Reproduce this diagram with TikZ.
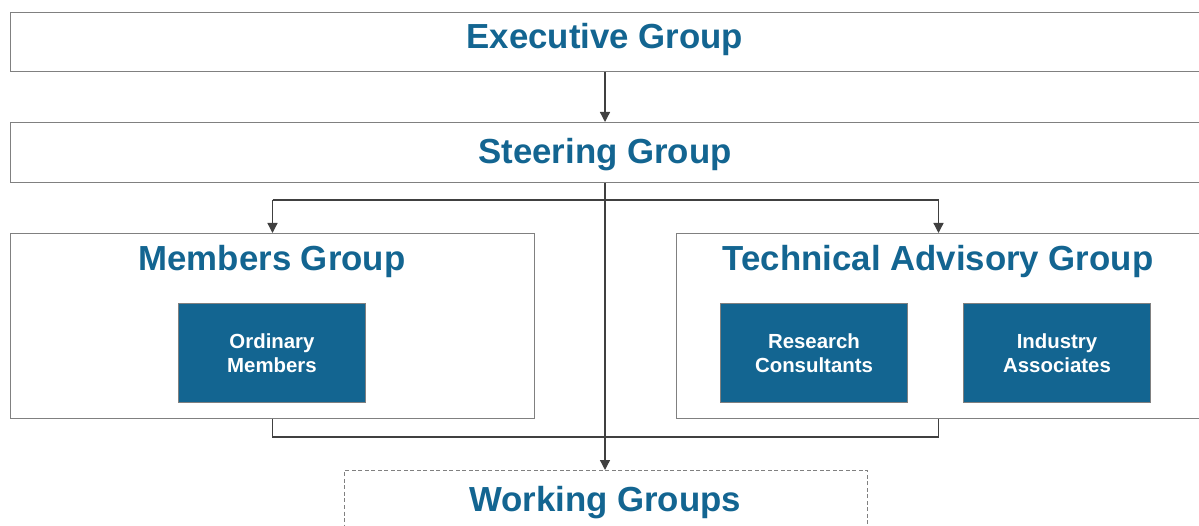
\documentclass[tikz,border=0pt]{standalone}
\usepackage{fontspec}
\setmainfont{Liberation Sans}
\usetikzlibrary{arrows.meta}
\definecolor{oxblue}{HTML}{136591}
\definecolor{edgegray}{HTML}{808080}
\definecolor{linegray}{HTML}{404040}
\tikzset{
  groupbox/.style={draw=edgegray, line width=1pt, fill=white, rectangle, inner sep=0pt, anchor=north west},
  dashbox/.style={groupbox, dashed, dash pattern=on 4pt off 2.5pt},
  title/.style={text=oxblue, font=\fontsize{34.8}{40}\selectfont\bfseries, inner sep=0pt},
  unitbox/.style={draw=edgegray, line width=1pt, fill=oxblue, rectangle, anchor=north west,
    minimum width=187pt, minimum height=99pt, text=white, align=center,
    font=\fontsize{20.4}{23.5}\selectfont\bfseries},
  conn/.style={draw=linegray, line width=1.3pt, -{Triangle[length=10pt,width=10pt]}},
  plainconn/.style={draw=linegray, line width=1.3pt}
}
\begin{document}
\begin{tikzpicture}[x=1pt,y=-1pt]
\useasboundingbox (0,0) rectangle (1199,526);
% boxes
\node[groupbox, minimum width=1190pt, minimum height=59pt] (exec) at (10,12) {};
\node[groupbox, minimum width=1190pt, minimum height=60pt] (steer) at (10,122) {};
\node[groupbox, minimum width=524pt, minimum height=185pt] (members) at (10,233) {};
\node[groupbox, minimum width=524pt, minimum height=185pt] (tag) at (676,233) {};
\node[dashbox, minimum width=523pt, minimum height=70pt] (work) at (344,470) {};
% titles
\node[title] (execT) at (605,40) {Executive Group};
\node[title] (steerT) at (605,155) {Steering Group};
\node[title] (membersT) at (272,262) {Members Group};
\node[title] (tagT) at (938,262) {Technical Advisory Group};
\node[title] (workT) at (605,503) {Working Groups};
% units
\node[unitbox] (ord) at (178,303) {Ordinary\\Members};
\node[unitbox] (res) at (720,303) {Research\\Consultants};
\node[unitbox] (ind) at (963,303) {Industry\\Associates};
% connectors
\coordinate (split) at (605,200);
\coordinate (join) at (605,437);
\draw[conn] (exec.south -| split) -- (steer.north -| split);
\draw[conn] (steer.south -| split) -- (work.north -| split);
\draw[plainconn] (members.north |- split) -- (tag.north |- split);
\draw[conn] (members.north |- split) -- (members.north);
\draw[conn] (tag.north |- split) -- (tag.north);
\draw[plainconn] (members.south) -- (members.south |- join) -- (tag.south |- join) -- (tag.south);
\end{tikzpicture}
\end{document}
